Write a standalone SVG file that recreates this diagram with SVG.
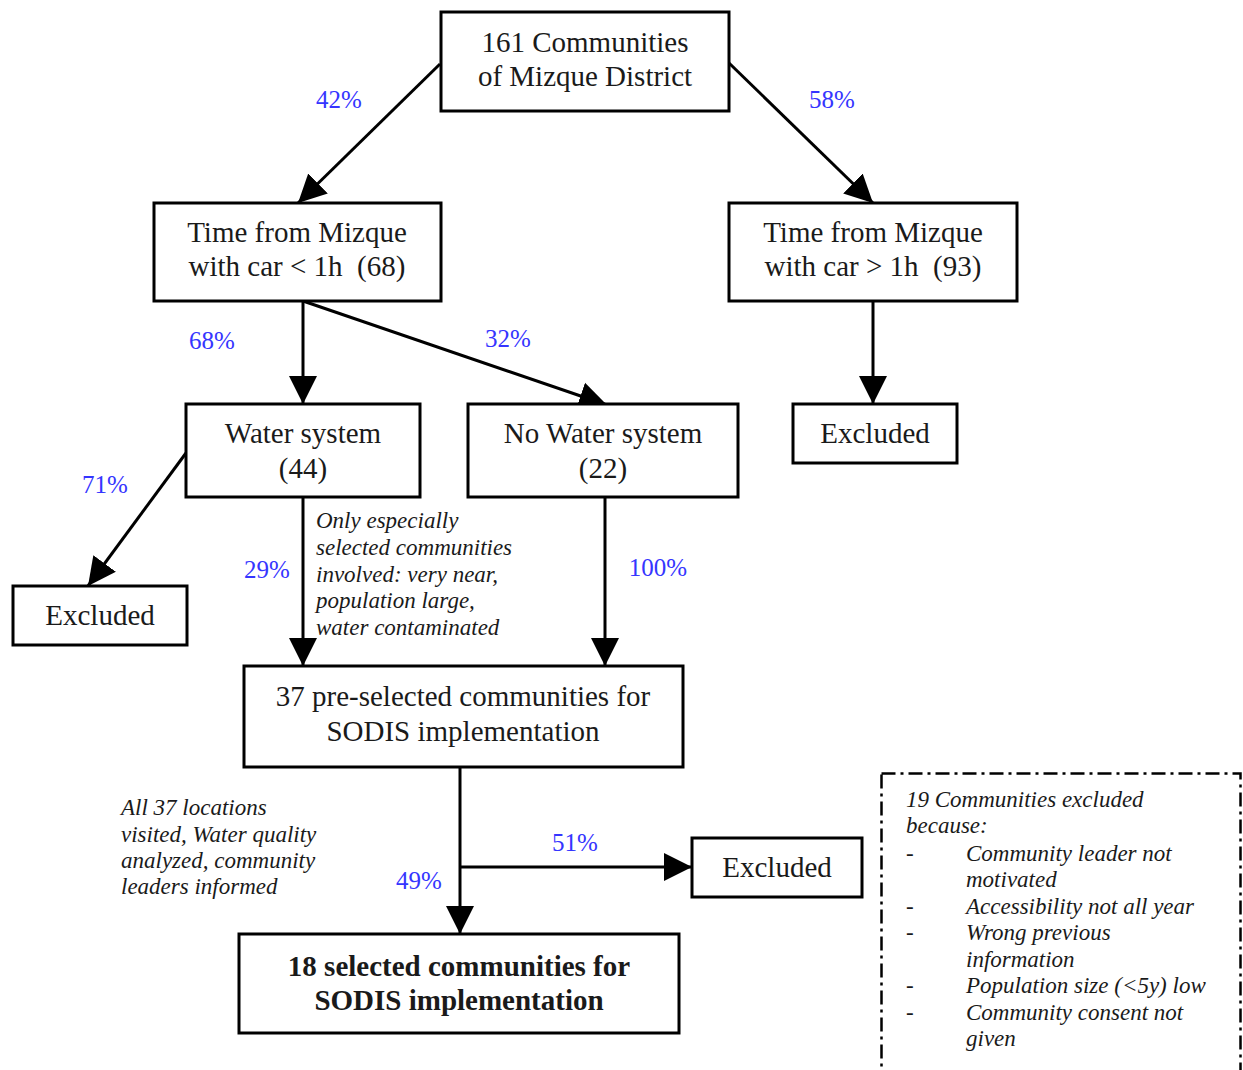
<svg xmlns="http://www.w3.org/2000/svg" width="1243" height="1070" viewBox="0 0 1243 1070">
<defs>
<marker id="ah" markerUnits="userSpaceOnUse" markerWidth="30" markerHeight="30" viewBox="0 0 30 30" refX="28" refY="15" orient="auto">
<path d="M0,1 L28,15 L0,29 Z" fill="#000"/>
</marker>
<style>
.box{fill:#fff;stroke:#000;stroke-width:3}
.t{font-family:"Liberation Serif","Times New Roman",serif;font-size:29px;fill:#1a1a1a;text-anchor:middle}
.b{font-weight:bold}
.p{font-family:"Liberation Serif","Times New Roman",serif;font-size:25px;fill:#3535ff;text-anchor:middle}
.n{font-family:"Liberation Serif","Times New Roman",serif;font-size:23px;font-style:italic;fill:#1a1a1a}
.c{fill:none;stroke:#000;stroke-width:3}
</style>
</defs>
<rect width="1243" height="1070" fill="#fff"/>
<g id="connectors">
<line class="c" x1="440" y1="64" x2="298" y2="203" marker-end="url(#ah)"/>
<line class="c" x1="729" y1="63" x2="873" y2="203" marker-end="url(#ah)"/>
<line class="c" x1="303" y1="301" x2="303" y2="404" marker-end="url(#ah)"/>
<line class="c" x1="303" y1="301" x2="607" y2="405" marker-end="url(#ah)"/>
<line class="c" x1="873" y1="301" x2="873" y2="404" marker-end="url(#ah)"/>
<line class="c" x1="186" y1="453" x2="88" y2="586" marker-end="url(#ah)"/>
<line class="c" x1="303" y1="497" x2="303" y2="666" marker-end="url(#ah)"/>
<line class="c" x1="605" y1="497" x2="605" y2="666" marker-end="url(#ah)"/>
<line class="c" x1="460" y1="767" x2="460" y2="934" marker-end="url(#ah)"/>
<line class="c" x1="460" y1="867" x2="692" y2="867" marker-end="url(#ah)"/>
</g>
<g id="labels">
<text class="p" x="339" y="108">42%</text>
<text class="p" x="832" y="108">58%</text>
<text class="p" x="212" y="349">68%</text>
<text class="p" x="508" y="347">32%</text>
<text class="p" x="105" y="493">71%</text>
<text class="p" x="267" y="578">29%</text>
<text class="p" x="658" y="576">100%</text>
<text class="p" x="575" y="851">51%</text>
<text class="p" x="419" y="889">49%</text>
</g>
<g id="n-top">
<rect class="box" x="441" y="12" width="288" height="99"/>
<text class="t" x="585" y="52">161 Communities</text>
<text class="t" x="585" y="86">of Mizque District</text>
</g>
<g id="n-near">
<rect class="box" x="154" y="203" width="287" height="98"/>
<text class="t" x="297" y="242">Time from Mizque</text>
<text class="t" x="297" y="276" xml:space="preserve">with car &lt; 1h  (68)</text>
</g>
<g id="n-far">
<rect class="box" x="729" y="203" width="288" height="98"/>
<text class="t" x="873" y="242">Time from Mizque</text>
<text class="t" x="873" y="276" xml:space="preserve">with car &gt; 1h  (93)</text>
</g>
<g id="n-water">
<rect class="box" x="186" y="404" width="234" height="93"/>
<text class="t" x="303" y="443">Water system</text>
<text class="t" x="303" y="478">(44)</text>
</g>
<g id="n-nowater">
<rect class="box" x="468" y="404" width="270" height="93"/>
<text class="t" x="603" y="443">No Water system</text>
<text class="t" x="603" y="478">(22)</text>
</g>
<g id="n-excl-right">
<rect class="box" x="793" y="404" width="164" height="59"/>
<text class="t" x="875" y="443">Excluded</text>
</g>
<g id="n-excl-left">
<rect class="box" x="13" y="586" width="174" height="59"/>
<text class="t" x="100" y="625">Excluded</text>
</g>
<g id="n-pre">
<rect class="box" x="244" y="666" width="439" height="101"/>
<text class="t" x="463" y="706">37 pre-selected communities for</text>
<text class="t" x="463" y="741">SODIS implementation</text>
</g>
<g id="n-excl-mid">
<rect class="box" x="692" y="838" width="170" height="59"/>
<text class="t" x="777" y="877">Excluded</text>
</g>
<g id="n-final">
<rect class="box" x="239" y="934" width="440" height="99"/>
<text class="t b" x="459" y="976">18 selected communities for</text>
<text class="t b" x="459" y="1010">SODIS implementation</text>
</g>
<g id="note-water">
<text class="n" x="316" y="528">Only especially</text>
<text class="n" x="316" y="555">selected communities</text>
<text class="n" x="316" y="582">involved: very near,</text>
<text class="n" x="316" y="608">population large,</text>
<text class="n" x="316" y="635">water contaminated</text>
</g>
<g id="note-visit">
<text class="n" x="121" y="815">All 37 locations</text>
<text class="n" x="121" y="842">visited, Water quality</text>
<text class="n" x="121" y="868">analyzed, community</text>
<text class="n" x="121" y="894">leaders informed</text>
</g>
<g id="note-excluded">
<rect x="881.5" y="773.5" width="359" height="310" fill="none" stroke="#000" stroke-width="2.5" stroke-dasharray="14,5,3,5"/>
<text class="n" x="906" y="807">19 Communities excluded</text>
<text class="n" x="906" y="833">because:</text>
<text class="n" x="906" y="861">-</text>
<text class="n" x="966" y="861">Community leader not</text>
<text class="n" x="966" y="887">motivated</text>
<text class="n" x="906" y="914">-</text>
<text class="n" x="966" y="914">Accessibility not all year</text>
<text class="n" x="906" y="940">-</text>
<text class="n" x="966" y="940">Wrong previous</text>
<text class="n" x="966" y="967">information</text>
<text class="n" x="906" y="993">-</text>
<text class="n" x="966" y="993">Population size (&lt;5y) low</text>
<text class="n" x="906" y="1020">-</text>
<text class="n" x="966" y="1020">Community consent not</text>
<text class="n" x="966" y="1046">given</text>
</g>
</svg>
